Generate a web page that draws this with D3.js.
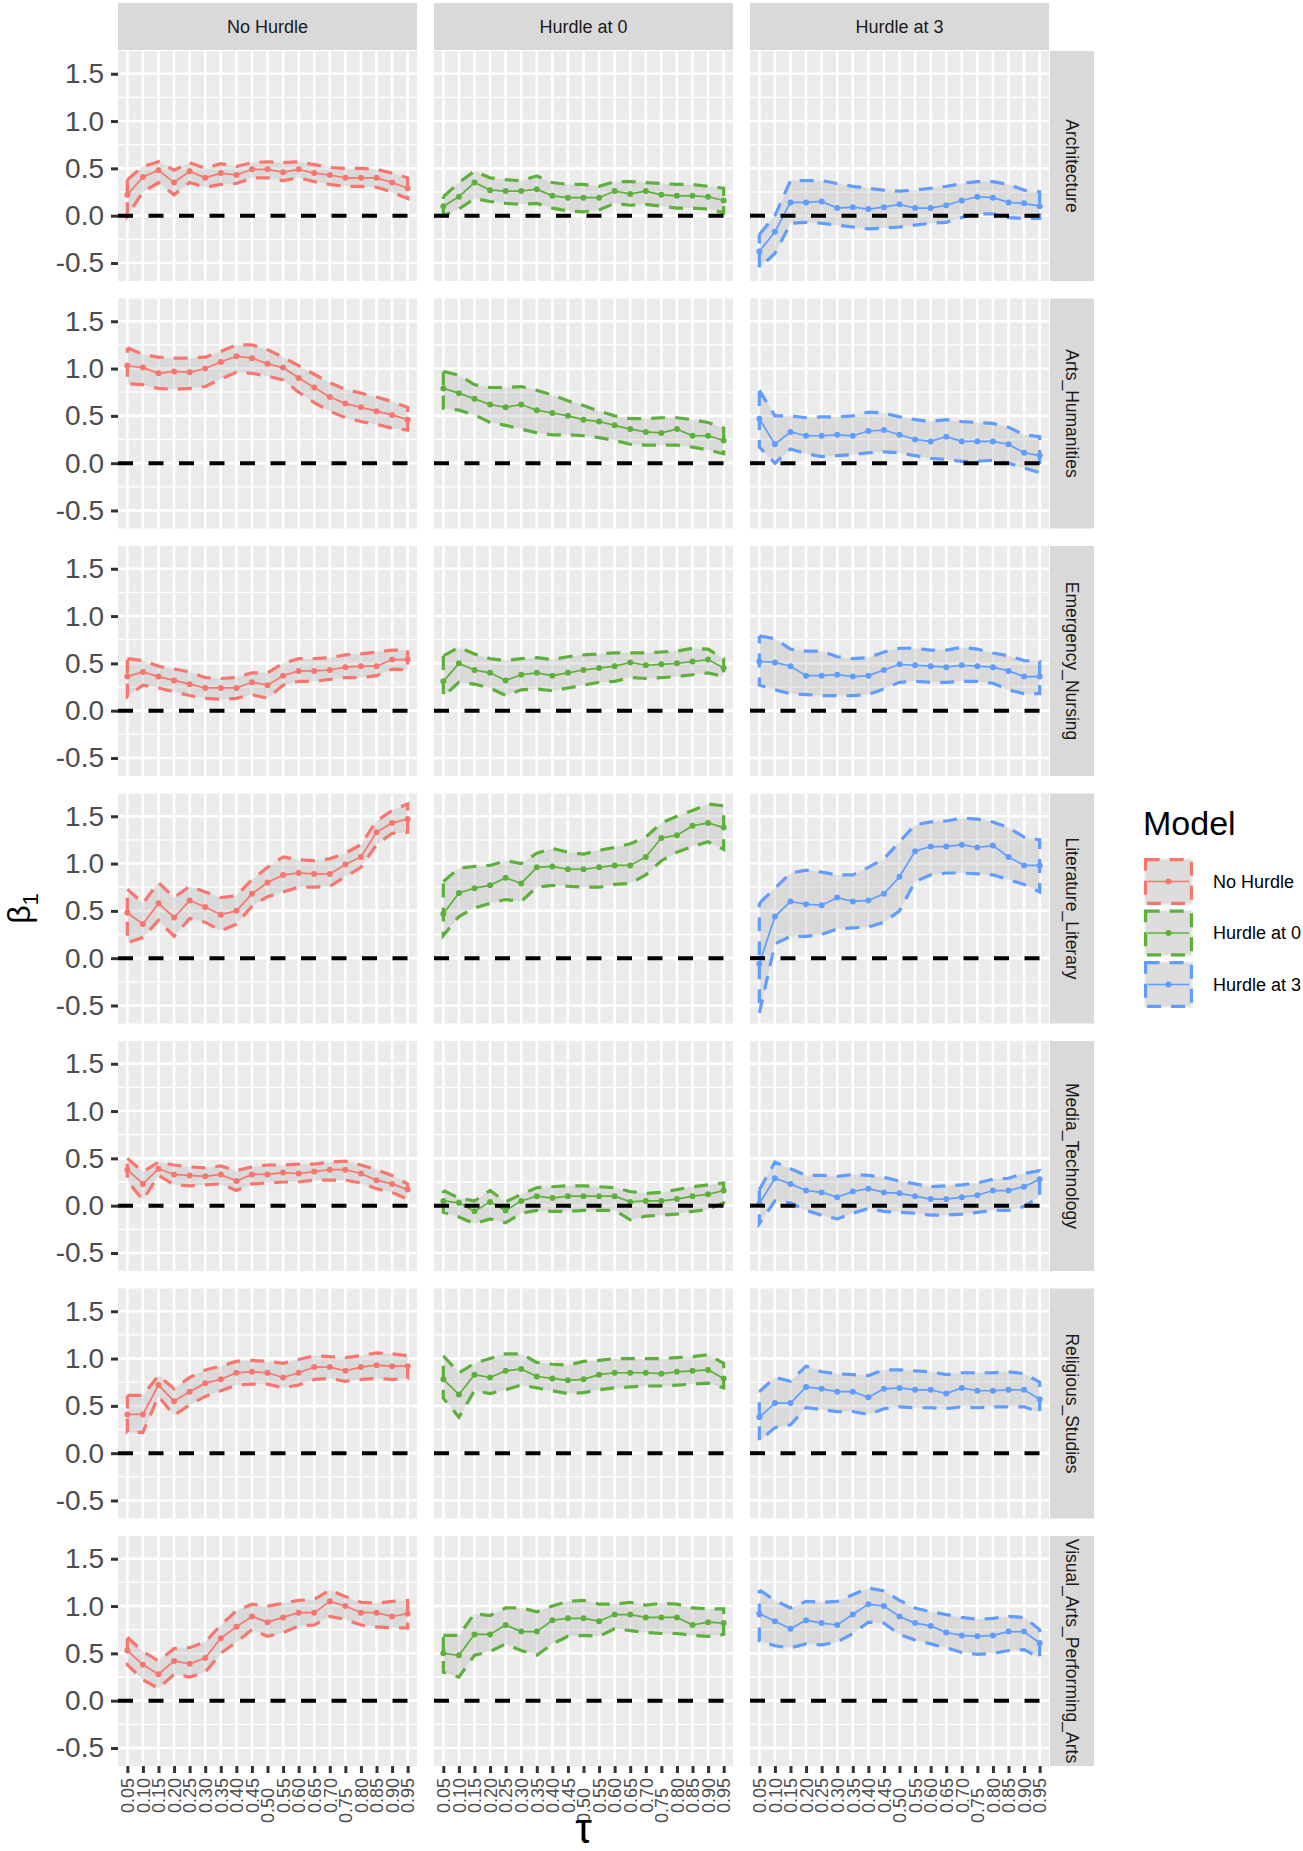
<!DOCTYPE html>
<html>
<head>
<meta charset="utf-8">
<script src="https://cdn.jsdelivr.net/npm/d3@7"></script>
<style>
  body { margin: 0; background: #fff; }
  text { font-family: "Liberation Sans", Arial, sans-serif; }
</style>
</head>
<body>
<div id="figure"></div>
<script>
// quantile levels, facets and models
var taus = ["0.05","0.10","0.15","0.20","0.25","0.30","0.35","0.40","0.45","0.50",
            "0.55","0.60","0.65","0.70","0.75","0.80","0.85","0.90","0.95"];
var models = ["No Hurdle", "Hurdle at 0", "Hurdle at 3"];
var fields = ["Architecture", "Arts_Humanities", "Emergency_Nursing", "Literature_Literary",
              "Media_Technology", "Religious_Studies", "Visual_Arts_Performing_Arts"];
var yTicks = [-0.5, 0, 0.5, 1, 1.5];
var yMinor = [-0.25, 0.25, 0.75, 1.25, 1.75];
// these two tick labels sit one character lower in the original
var lowLabels = ["0.50", "0.75"];

// one row per field, one value per tau
var noHurdleEst = [
  [0.22,0.41,0.48,0.35,0.47,0.40,0.45,0.43,0.49,0.49,0.46,0.49,0.45,0.43,0.40,0.40,0.40,0.35,0.29],
  [1.03,1.01,0.95,0.97,0.96,1.00,1.07,1.13,1.11,1.05,1.01,0.90,0.80,0.70,0.63,0.59,0.55,0.51,0.46],
  [0.36,0.41,0.36,0.32,0.28,0.24,0.24,0.24,0.30,0.27,0.37,0.42,0.42,0.43,0.46,0.47,0.47,0.54,0.54],
  [0.48,0.36,0.58,0.43,0.61,0.54,0.46,0.50,0.68,0.80,0.88,0.90,0.89,0.89,0.99,1.07,1.33,1.43,1.47],
  [0.38,0.23,0.39,0.33,0.32,0.31,0.33,0.26,0.33,0.33,0.35,0.34,0.36,0.38,0.38,0.34,0.27,0.23,0.17],
  [0.41,0.41,0.72,0.55,0.65,0.74,0.78,0.85,0.86,0.85,0.80,0.85,0.91,0.91,0.87,0.91,0.93,0.92,0.92],
  [0.53,0.38,0.28,0.42,0.39,0.45,0.66,0.78,0.89,0.83,0.88,0.93,0.93,1.05,1.00,0.93,0.93,0.89,0.92]
];
var noHurdleHi = [
  [0.38,0.52,0.57,0.48,0.56,0.50,0.55,0.52,0.56,0.57,0.56,0.57,0.54,0.51,0.50,0.50,0.49,0.45,0.40],
  [1.22,1.15,1.12,1.11,1.11,1.12,1.18,1.25,1.25,1.20,1.12,1.03,0.94,0.85,0.78,0.74,0.70,0.65,0.59],
  [0.55,0.53,0.47,0.44,0.41,0.35,0.34,0.35,0.40,0.40,0.50,0.55,0.55,0.56,0.59,0.60,0.62,0.64,0.64],
  [0.73,0.58,0.80,0.64,0.76,0.70,0.64,0.66,0.83,0.96,1.07,1.04,1.03,1.05,1.11,1.20,1.45,1.56,1.63],
  [0.50,0.36,0.46,0.43,0.41,0.40,0.42,0.37,0.41,0.43,0.43,0.44,0.44,0.46,0.47,0.43,0.38,0.32,0.23],
  [0.61,0.61,0.82,0.68,0.80,0.88,0.92,0.97,0.98,0.97,0.95,0.99,1.03,1.02,1.01,1.03,1.06,1.05,1.03],
  [0.67,0.52,0.42,0.55,0.56,0.62,0.80,0.95,1.02,1.00,1.03,1.06,1.07,1.17,1.10,1.04,1.03,1.05,1.06]
];
var noHurdleLo = [
  [0.00,0.25,0.35,0.22,0.35,0.30,0.33,0.34,0.40,0.40,0.37,0.40,0.36,0.33,0.31,0.31,0.30,0.25,0.18],
  [0.84,0.83,0.79,0.78,0.79,0.81,0.89,0.96,0.95,0.92,0.88,0.75,0.64,0.55,0.48,0.44,0.41,0.37,0.35],
  [0.15,0.27,0.24,0.20,0.16,0.13,0.12,0.13,0.17,0.13,0.27,0.31,0.31,0.33,0.35,0.35,0.37,0.44,0.43],
  [0.16,0.22,0.40,0.23,0.42,0.38,0.29,0.36,0.55,0.65,0.70,0.75,0.75,0.76,0.86,0.96,1.20,1.32,1.33],
  [0.26,0.06,0.32,0.22,0.21,0.22,0.23,0.16,0.23,0.24,0.25,0.25,0.27,0.27,0.27,0.24,0.18,0.14,0.07],
  [0.22,0.22,0.60,0.40,0.51,0.60,0.66,0.72,0.73,0.73,0.69,0.72,0.78,0.79,0.76,0.78,0.79,0.78,0.79],
  [0.38,0.22,0.13,0.28,0.25,0.30,0.50,0.62,0.75,0.68,0.72,0.79,0.80,0.89,0.86,0.80,0.78,0.77,0.77]
];

var hurdle0Est = [
  [0.10,0.20,0.35,0.27,0.26,0.26,0.28,0.21,0.19,0.19,0.19,0.26,0.23,0.26,0.22,0.21,0.21,0.20,0.16],
  [0.79,0.74,0.68,0.62,0.59,0.62,0.56,0.53,0.50,0.46,0.44,0.40,0.36,0.33,0.32,0.36,0.29,0.29,0.24],
  [0.31,0.50,0.43,0.40,0.32,0.38,0.40,0.37,0.40,0.43,0.45,0.47,0.51,0.48,0.49,0.50,0.52,0.54,0.45],
  [0.47,0.69,0.74,0.77,0.85,0.79,0.96,0.97,0.94,0.94,0.96,0.98,0.98,1.07,1.27,1.30,1.40,1.43,1.38],
  [0.05,0.03,-0.06,0.04,-0.05,0.05,0.10,0.08,0.10,0.10,0.10,0.10,0.04,0.05,0.05,0.07,0.10,0.12,0.16],
  [0.78,0.62,0.83,0.80,0.87,0.89,0.81,0.79,0.77,0.78,0.83,0.85,0.85,0.85,0.84,0.86,0.87,0.88,0.79],
  [0.50,0.48,0.70,0.70,0.80,0.73,0.73,0.85,0.87,0.87,0.84,0.91,0.91,0.88,0.88,0.88,0.80,0.83,0.82]
];
var hurdle0Hi = [
  [0.20,0.35,0.47,0.40,0.38,0.37,0.42,0.35,0.33,0.33,0.31,0.36,0.36,0.35,0.34,0.33,0.33,0.31,0.29],
  [0.97,0.93,0.83,0.80,0.80,0.81,0.77,0.72,0.66,0.61,0.55,0.50,0.47,0.47,0.48,0.48,0.46,0.43,0.37],
  [0.58,0.67,0.60,0.55,0.53,0.55,0.56,0.54,0.57,0.59,0.60,0.61,0.61,0.61,0.62,0.63,0.66,0.65,0.55],
  [0.81,0.95,0.97,0.98,1.03,1.00,1.11,1.16,1.12,1.10,1.14,1.17,1.21,1.28,1.43,1.50,1.56,1.63,1.61],
  [0.16,0.08,0.05,0.16,0.04,0.12,0.19,0.20,0.21,0.21,0.20,0.19,0.15,0.13,0.14,0.17,0.20,0.22,0.24],
  [1.03,0.85,0.95,1.00,1.05,1.05,0.96,0.94,0.93,0.97,0.98,1.00,1.00,1.00,1.00,1.01,1.02,1.04,0.95],
  [0.69,0.69,0.92,0.90,0.98,0.98,0.94,1.00,1.05,1.06,1.02,1.02,1.04,1.01,1.03,1.02,0.98,0.97,0.97]
];
var hurdle0Lo = [
  [0.00,0.07,0.18,0.15,0.13,0.12,0.13,0.08,0.05,0.04,0.06,0.13,0.11,0.12,0.10,0.08,0.08,0.07,0.03],
  [0.58,0.56,0.51,0.43,0.40,0.36,0.32,0.30,0.30,0.29,0.27,0.24,0.20,0.19,0.19,0.19,0.17,0.14,0.10],
  [0.15,0.30,0.28,0.24,0.16,0.22,0.23,0.21,0.24,0.27,0.30,0.31,0.35,0.34,0.35,0.36,0.38,0.40,0.36],
  [0.24,0.44,0.53,0.58,0.62,0.60,0.75,0.77,0.76,0.75,0.75,0.78,0.79,0.88,1.03,1.12,1.18,1.23,1.15],
  [-0.07,-0.12,-0.19,-0.14,-0.18,-0.08,-0.05,-0.06,-0.06,-0.05,-0.05,-0.05,-0.15,-0.11,-0.10,-0.09,-0.06,-0.04,0.03],
  [0.58,0.38,0.66,0.63,0.67,0.72,0.69,0.66,0.63,0.64,0.67,0.69,0.70,0.71,0.71,0.72,0.73,0.74,0.69],
  [0.30,0.25,0.48,0.52,0.60,0.53,0.48,0.60,0.68,0.69,0.68,0.76,0.74,0.72,0.71,0.71,0.69,0.68,0.70]
];

var hurdle3Est = [
  [-0.38,-0.17,0.14,0.14,0.15,0.08,0.09,0.07,0.09,0.12,0.08,0.08,0.11,0.16,0.20,0.19,0.14,0.13,0.10],
  [0.47,0.20,0.33,0.29,0.29,0.30,0.29,0.34,0.35,0.30,0.25,0.23,0.28,0.23,0.23,0.23,0.20,0.11,0.08],
  [0.52,0.51,0.47,0.37,0.37,0.38,0.36,0.37,0.43,0.49,0.48,0.47,0.46,0.48,0.47,0.46,0.42,0.36,0.36],
  [-0.06,0.44,0.60,0.57,0.56,0.64,0.60,0.61,0.68,0.86,1.13,1.18,1.18,1.20,1.17,1.19,1.07,0.98,0.98],
  [0.02,0.29,0.23,0.16,0.14,0.09,0.15,0.18,0.14,0.13,0.10,0.07,0.07,0.09,0.11,0.16,0.16,0.20,0.28],
  [0.38,0.53,0.53,0.70,0.68,0.65,0.65,0.59,0.68,0.69,0.67,0.67,0.63,0.69,0.66,0.66,0.67,0.67,0.57],
  [0.92,0.84,0.76,0.85,0.82,0.80,0.91,1.02,1.00,0.89,0.82,0.79,0.72,0.69,0.68,0.69,0.73,0.73,0.61]
];
var hurdle3Hi = [
  [-0.20,0.00,0.37,0.37,0.37,0.34,0.31,0.29,0.27,0.26,0.27,0.29,0.31,0.34,0.36,0.36,0.33,0.27,0.25],
  [0.77,0.50,0.50,0.48,0.49,0.49,0.50,0.54,0.53,0.49,0.46,0.44,0.46,0.44,0.43,0.42,0.38,0.30,0.28],
  [0.79,0.76,0.65,0.63,0.63,0.57,0.55,0.56,0.62,0.66,0.66,0.64,0.64,0.67,0.65,0.61,0.58,0.53,0.52],
  [0.58,0.74,0.90,0.93,0.91,0.88,0.88,0.96,1.05,1.23,1.41,1.44,1.45,1.48,1.47,1.44,1.38,1.28,1.25],
  [0.17,0.46,0.39,0.32,0.32,0.31,0.33,0.32,0.30,0.26,0.23,0.20,0.21,0.22,0.24,0.28,0.29,0.34,0.37],
  [0.65,0.80,0.76,0.92,0.86,0.84,0.83,0.82,0.88,0.88,0.87,0.86,0.83,0.85,0.85,0.85,0.86,0.84,0.75],
  [1.17,1.06,0.98,1.05,1.04,1.05,1.12,1.19,1.16,1.06,0.98,0.94,0.91,0.88,0.86,0.87,0.89,0.88,0.75]
];
var hurdle3Lo = [
  [-0.55,-0.40,-0.08,-0.07,-0.08,-0.10,-0.12,-0.14,-0.13,-0.12,-0.10,-0.08,-0.07,-0.02,0.02,0.02,-0.02,-0.03,-0.03],
  [0.17,0.00,0.15,0.10,0.07,0.08,0.09,0.11,0.12,0.11,0.08,0.05,0.04,0.02,0.02,0.03,0.00,-0.05,-0.10],
  [0.27,0.22,0.18,0.17,0.16,0.16,0.16,0.17,0.23,0.30,0.31,0.30,0.30,0.31,0.31,0.29,0.22,0.18,0.18],
  [-0.58,0.15,0.23,0.23,0.25,0.31,0.32,0.33,0.38,0.50,0.81,0.88,0.90,0.90,0.89,0.88,0.83,0.78,0.70],
  [-0.19,0.05,0.03,-0.05,-0.10,-0.14,-0.08,-0.03,-0.06,-0.07,-0.08,-0.10,-0.10,-0.09,-0.07,-0.05,-0.05,-0.01,0.10],
  [0.13,0.27,0.30,0.48,0.46,0.44,0.44,0.41,0.47,0.49,0.48,0.48,0.47,0.49,0.48,0.49,0.49,0.49,0.43],
  [0.63,0.58,0.56,0.60,0.59,0.62,0.71,0.83,0.82,0.70,0.64,0.60,0.56,0.51,0.49,0.50,0.53,0.54,0.45]
];

var colors = ["#F8766D", "#5DB13A", "#619CFF"];

var figW = 1303, figH = 1851;
var panelLeft = 118, panelTop = 51, panelW = 299, panelH = 230, gap = 17, rowStep = 247.5;
var stripW = 44;

var series = [
  {est: noHurdleEst, lo: noHurdleLo, hi: noHurdleHi},
  {est: hurdle0Est, lo: hurdle0Lo, hi: hurdle0Hi},
  {est: hurdle3Est, lo: hurdle3Lo, hi: hurdle3Hi}
];

var svg = d3.select("#figure").append("svg")
    .attr("width", figW)
    .attr("height", figH);
svg.append("rect").attr("width", figW).attr("height", figH).attr("fill", "#fff");

// shared y range, padded 5% like ggplot
var allVals = [];
series.forEach(function (s) { s.lo.forEach(function (r) { allVals = allVals.concat(r) }); s.hi.forEach(function (r) { allVals = allVals.concat(r) }) });
var ext = d3.extent(allVals);
var pad = (ext[1] - ext[0]) * 0.05;
var y = d3.scaleLinear().domain([ext[0] - pad, ext[1] + pad]).range([panelH, 0]);
var x = d3.scalePoint().domain(taus).range([0, panelW]).padding(0.6);
var yFmt = function (d) { return d3.format(".1f")(d).replace("\u2212", "-") };

var ribbonLine = d3.line().x(function (d) { return d[0] }).y(function (d) { return d[1] });
var estLine = d3.line().x(function (d, i) { return x(taus[i]) }).y(function (d) { return y(d) });

fields.forEach(function (field, r) {
  var py = panelTop + r * rowStep;
  models.forEach(function (model, c) {
    var px = panelLeft + c * (panelW + gap);
    var g = svg.append("g").attr("transform", "translate(" + px + "," + py + ")");
    g.append("rect").attr("width", panelW).attr("height", panelH).attr("fill", "#EBEBEB");

    // grid
    g.selectAll(".minor").data(yMinor.filter(function (v) { return y(v) >= 0 && y(v) <= panelH }))
      .enter().append("line")
      .attr("x1", 0).attr("x2", panelW)
      .attr("y1", function (d) { return y(d) }).attr("y2", function (d) { return y(d) })
      .attr("stroke", "#fff").attr("stroke-width", 1.3);
    g.selectAll(".hmajor").data(yTicks).enter().append("line")
      .attr("x1", 0).attr("x2", panelW)
      .attr("y1", function (d) { return y(d) }).attr("y2", function (d) { return y(d) })
      .attr("stroke", "#fff").attr("stroke-width", 2.6);
    g.selectAll(".vmajor").data(taus).enter().append("line")
      .attr("x1", function (d) { return x(d) }).attr("x2", function (d) { return x(d) })
      .attr("y1", 0).attr("y2", panelH)
      .attr("stroke", "#fff").attr("stroke-width", 2.6);

    var s = series[c];
    var est = s.est[r], lo = s.lo[r], hi = s.hi[r];
    var poly = [];
    taus.forEach(function (t, i) { poly.push([x(t), y(hi[i])]) });
    for (var i = taus.length - 1; i >= 0; i--) poly.push([x(taus[i]), y(lo[i])]);
    poly.push(poly[0]);

    g.append("path").attr("d", ribbonLine(poly))
      .attr("fill", "#B8B8B8").attr("fill-opacity", 0.35).attr("stroke", "none");
    g.append("path").attr("d", ribbonLine(poly))
      .attr("fill", "none").attr("stroke", colors[c]).attr("stroke-width", 3.2)
      .attr("stroke-dasharray", "14,10");
    g.append("path").attr("d", estLine(est))
      .attr("fill", "none").attr("stroke", colors[c]).attr("stroke-width", 1.7);
    g.selectAll(".pt").data(est).enter().append("circle")
      .attr("cx", function (d, i) { return x(taus[i]) })
      .attr("cy", function (d) { return y(d) })
      .attr("r", 3).attr("fill", colors[c]);

    g.append("line").attr("x1", 0).attr("x2", panelW)
      .attr("y1", y(0)).attr("y2", y(0))
      .attr("stroke", "#000").attr("stroke-width", 4).attr("stroke-dasharray", "15,15.5");

    // top strips
    if (r === 0) {
      svg.append("rect").attr("x", px).attr("y", 3).attr("width", panelW).attr("height", 47).attr("fill", "#D9D9D9");
      svg.append("text").attr("x", px + panelW / 2).attr("y", 27).attr("dy", "0.35em")
        .attr("text-anchor", "middle").attr("font-size", 18).attr("fill", "#1A1A1A").text(model);
    }
    // y axis
    if (c === 0) {
      var ya = svg.append("g").attr("transform", "translate(" + px + "," + py + ")")
        .call(d3.axisLeft(y).tickValues(yTicks).tickSize(7).tickPadding(7).tickFormat(yFmt));
      ya.select(".domain").remove();
      ya.selectAll("line").attr("stroke", "#333").attr("stroke-width", 3);
      ya.selectAll("text").attr("font-size", 28).attr("fill", "#4D4D4D")
        .attr("font-family", "Liberation Sans, Arial, sans-serif");
    }
    // x axis on last row
    if (r === fields.length - 1) {
      var xa = svg.append("g").attr("transform", "translate(" + px + "," + (py + panelH) + ")")
        .call(d3.axisBottom(x).tickSize(7).tickPadding(4));
      xa.select(".domain").remove();
      xa.selectAll("line").attr("stroke", "#333").attr("stroke-width", 3);
      xa.selectAll("text").attr("font-size", 18).attr("fill", "#4D4D4D")
        .attr("font-family", "Liberation Sans, Arial, sans-serif")
        .attr("text-anchor", "end").attr("dy", "0.35em")
        .attr("transform", function (d) {
          var down = lowLabels.indexOf(d) >= 0 ? 10 : 0;
          return "translate(0," + (12 + down) + ") rotate(-90)";
        })
        .attr("y", 0).attr("x", 0);
    }
  });
  // right strips
  var sx = panelLeft + 3 * panelW + 2 * gap + 1;
  svg.append("rect").attr("x", sx).attr("y", py).attr("width", stripW).attr("height", panelH).attr("fill", "#D9D9D9");
  svg.append("text").attr("transform", "translate(" + (sx + stripW / 2) + "," + (py + panelH / 2) + ") rotate(90)")
    .attr("text-anchor", "middle").attr("dy", "0.35em").attr("font-size", 17.5).attr("fill", "#1A1A1A").text(field);
});

// axis titles
svg.append("text").attr("transform", "translate(30," + (panelTop + (6 * rowStep + panelH) / 2) + ") rotate(-90)")
  .attr("text-anchor", "middle").attr("font-size", 32).attr("font-family", "DejaVu Serif, serif").attr("fill", "#000")
  .html('β<tspan font-size="22" dy="8">1</tspan>');
svg.append("text").attr("x", panelLeft + (3 * panelW + 2 * gap) / 2).attr("y", 1843)
  .attr("text-anchor", "middle").attr("font-size", 42).attr("font-family", "DejaVu Serif, serif").attr("fill", "#000")
  .text("τ");

// legend
var lg = svg.append("g").attr("transform", "translate(1144,0)");
lg.append("text").attr("x", -1).attr("y", 835).attr("font-size", 34).attr("fill", "#000").text("Model");
models.forEach(function (m, i) {
  var ky = 858 + i * 51.5;
  lg.append("rect").attr("x", 0).attr("y", ky).attr("width", 49).attr("height", 47).attr("fill", "#F2F2F2");
  lg.append("rect").attr("x", 1.6).attr("y", ky + 1.6).attr("width", 45.8).attr("height", 43.8)
    .attr("fill", "#B8B8B8").attr("fill-opacity", 0.35)
    .attr("stroke", colors[i]).attr("stroke-width", 3.2).attr("stroke-dasharray", "14,10");
  lg.append("line").attr("x1", 4).attr("x2", 45).attr("y1", ky + 23.5).attr("y2", ky + 23.5)
    .attr("stroke", colors[i]).attr("stroke-width", 1.7);
  lg.append("circle").attr("cx", 24.5).attr("cy", ky + 23.5).attr("r", 3).attr("fill", colors[i]);
  lg.append("text").attr("x", 69).attr("y", ky + 23.5).attr("dy", "0.35em").attr("font-size", 18)
    .attr("fill", "#000").text(m);
});
</script>
</body>
</html>
